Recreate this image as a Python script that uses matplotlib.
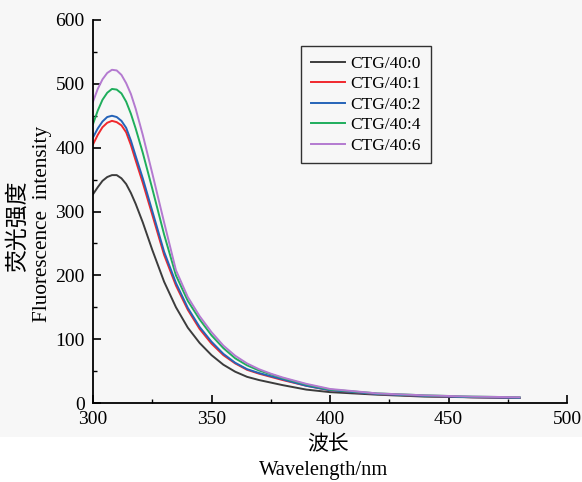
import matplotlib
matplotlib.use("Agg")
import matplotlib.pyplot as plt
from matplotlib.patches import Rectangle
from matplotlib.ticker import MultipleLocator

wavelength = [300, 302, 304, 306, 308, 310, 312, 314, 316, 318, 321, 325, 330, 335, 340, 345, 350,
              355, 360, 365, 370, 375, 380, 390, 400, 420, 440, 460, 480]
ctg0 = [327, 338, 348, 354, 357, 357, 352, 343, 329, 312, 283, 240, 190, 150, 118, 94, 75,
        60, 49, 41, 36, 32, 28, 21, 17, 13, 10, 9, 8]
ctg1 = [405, 420, 432, 439, 442, 440, 435, 424, 404, 380, 345, 295, 232, 184, 146, 116, 93,
        75, 62, 52, 46, 41, 36, 27, 20, 14, 11, 9, 8]
ctg2 = [416, 430, 441, 448, 450, 448, 442, 431, 411, 387, 352, 301, 237, 188, 149, 119, 96,
        77, 63, 53, 47, 42, 37, 27, 20, 14, 11, 9, 8]
ctg4 = [437, 458, 475, 486, 492, 491, 485, 472, 453, 430, 392, 336, 264, 200, 160, 131, 106,
        86, 70, 59, 51, 45, 39, 29, 21, 15, 12, 10, 9]
ctg6 = [472, 492, 507, 517, 522, 521, 514, 501, 484, 461, 420, 360, 283, 208, 166, 136, 111,
        90, 74, 62, 53, 46, 40, 30, 22, 15, 12, 10, 9]

series_labels = ["CTG/40:0", "CTG/40:1", "CTG/40:2", "CTG/40:4", "CTG/40:6"]
series_values = [ctg0, ctg1, ctg2, ctg4, ctg6]
colors = ["#3c3c3c", "#f0282d", "#2563b8", "#1fae5c", "#b47ad0"]

xticks = [300, 350, 400, 450, 500]
yticks = [0, 100, 200, 300, 400, 500, 600]

serif = ["Liberation Serif", "DejaVu Serif"]
cjk = ["Noto Sans CJK SC", "DejaVu Sans"]

fig = plt.figure(figsize=(5.82, 4.82), dpi=100)
fig.patch.set_facecolor("white")
bg = Rectangle((0, 1 - 437 / 482), 1, 437 / 482, transform=fig.transFigure,
               facecolor="#f7f7f7", edgecolor="none", zorder=-10)
fig.patches.append(bg)

ax = fig.add_axes([93 / 582, 1 - 403 / 482, 474 / 582, 383 / 482])
ax.patch.set_alpha(0)

for lab, vals, c in zip(series_labels, series_values, colors):
    ax.plot(wavelength, vals, color=c, lw=1.4, label=lab)

ax.set_xlim(300, 500)
ax.set_ylim(0, 600)
ax.set_xticks(xticks)
ax.set_yticks(yticks)
ax.xaxis.set_minor_locator(MultipleLocator(25))
ax.yaxis.set_minor_locator(MultipleLocator(50))
ax.tick_params(which="major", direction="in", length=6, width=1.2, labelsize=14, pad=6)
ax.tick_params(which="minor", direction="in", length=3, width=1.0)
for lbl in ax.get_xticklabels() + ax.get_yticklabels():
    lbl.set_family(serif)
for s in ["top", "right"]:
    ax.spines[s].set_visible(False)
for s in ["left", "bottom"]:
    ax.spines[s].set_linewidth(1.3)

leg = ax.legend(loc="upper left", bbox_to_anchor=((301 - 93) / 474, (403 - 46) / 383),
                prop={"family": serif, "size": 12.5}, frameon=True, fancybox=False,
                edgecolor="black", handlelength=2.0, handletextpad=0.3,
                labelspacing=0.25, borderpad=0.55, borderaxespad=0)
leg.get_frame().set_linewidth(1.0)
leg.get_frame().set_facecolor("#f7f7f7")

fig.text(17 / 582, 1 - 226 / 482, "荧光强度", family=cjk, fontsize=16.5,
         rotation=90, ha="center", va="center")
fig.text(43 / 582, 1 - 224 / 482, "Fluorescence  intensity", family=serif, fontsize=15.3,
         rotation=90, ha="center", va="center")
fig.text(328 / 582, 1 - 444 / 482, "波长", family=cjk, fontsize=15,
         ha="center", va="center")
fig.text(324 / 582, 1 - 470 / 482, "Wavelength/nm", family=serif, fontsize=14.8,
         ha="center", va="center")

fig.savefig("out.png", dpi=100, facecolor=fig.get_facecolor())
